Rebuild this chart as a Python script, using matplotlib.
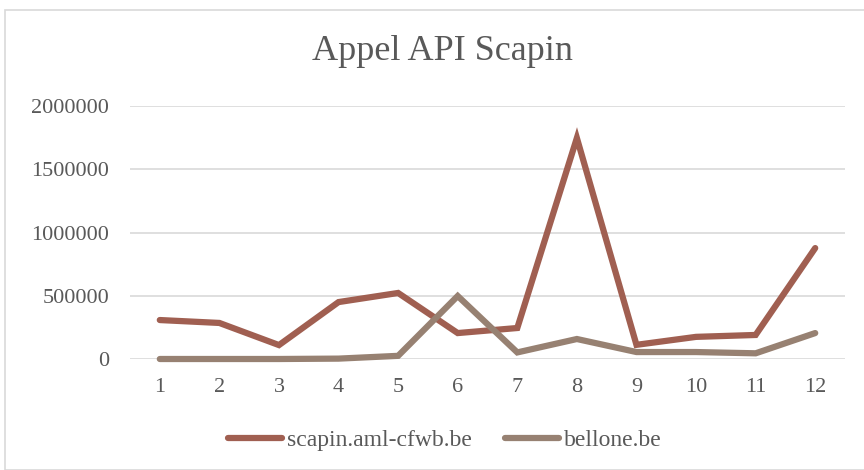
import matplotlib.pyplot as plt
from matplotlib.patches import Rectangle

months = [1, 2, 3, 4, 5, 6, 7, 8, 9, 10, 11, 12]
scapin = [308000, 285000, 110000, 450000, 522000, 205000, 245000, 1747000, 112000, 175000, 190000, 877000]
bellone = [0, 0, 0, 3000, 25000, 498000, 52000, 158000, 55000, 55000, 45000, 205000]
yticks = [0, 500000, 1000000, 1500000, 2000000]

plt.rcParams['font.family'] = ['Liberation Serif', 'DejaVu Serif']
text_col = '#595959'

fig = plt.figure(figsize=(8.64, 4.70), dpi=100)
fig.patches.append(Rectangle((5 / 864, 0.0), 1.0, 1 - 10 / 470, transform=fig.transFigure,
                             fill=False, edgecolor='#d9d9d9', linewidth=1.2))

ax = fig.add_axes([130 / 864, 1 - 359 / 470, 715 / 864, 253 / 470])
ax.plot(months, scapin, color='#a05f51', linewidth=4.5, solid_capstyle='round',
        solid_joinstyle='miter', label='scapin.aml-cfwb.be', clip_on=False, zorder=3)
ax.plot(months, bellone, color='#978172', linewidth=4.5, solid_capstyle='round',
        solid_joinstyle='miter', label='bellone.be', clip_on=False, zorder=3)

ax.set_xlim(0.5, 12.5)
ax.set_ylim(0, 2000000)
ax.set_yticks(yticks)
ax.set_yticklabels([str(v) for v in yticks])
ax.set_xticks(months)
ax.grid(axis='y', color='#d9d9d9', linewidth=1.2)
ax.set_axisbelow(True)
for s in ax.spines.values():
    s.set_visible(False)
ax.tick_params(length=0, labelsize=16, colors=text_col)
ax.tick_params(axis='y', pad=15)
ax.tick_params(axis='x', pad=14)

fig.text(442 / 864, 1 - 52 / 470, 'Appel API Scapin', ha='center', va='center',
         fontsize=26, color=text_col)

fig.legend(loc='center', bbox_to_anchor=(445 / 864, 1 - 440 / 470), ncol=2, frameon=False,
           fontsize=17, labelcolor=text_col, handlelength=2.3, handletextpad=0.2,
           columnspacing=1.4)

fig.savefig('out.png', dpi=100)
